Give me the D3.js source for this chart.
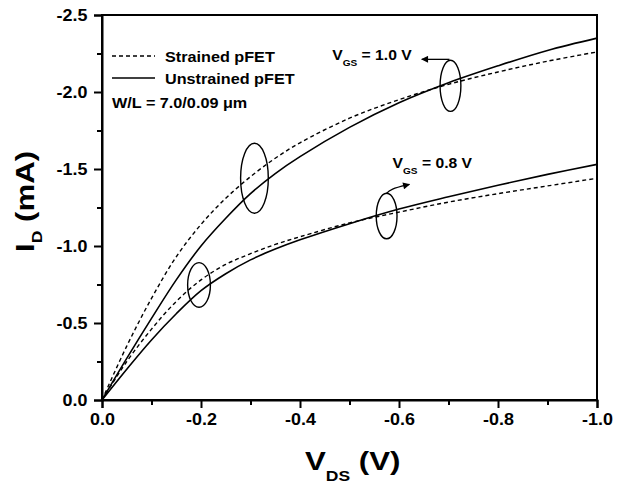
<!DOCTYPE html>
<html lang="en">
<head>
<meta charset="utf-8">
<title>pFET Id-Vds</title>
<script src="https://cdnjs.cloudflare.com/ajax/libs/d3/7.8.5/d3.min.js"></script>
<style>
  body { margin: 0; background: #fff; }
  svg { font-family: "Liberation Sans", Arial, sans-serif; font-weight: bold; }
</style>
</head>
<body>
<script>
// data (V and mA)
var vds = [0, -0.05, -0.1, -0.15, -0.2, -0.25, -0.3, -0.35, -0.4, -0.5, -0.6, -0.7, -0.8, -0.9, -1.0];
var strained10 = [0, -0.35, -0.66, -0.93, -1.14, -1.31, -1.45, -1.57, -1.67, -1.83, -1.95, -2.05, -2.13, -2.20, -2.26];
var unstrained10 = [0, -0.27, -0.53, -0.78, -1.00, -1.18, -1.34, -1.47, -1.58, -1.77, -1.93, -2.06, -2.17, -2.27, -2.35];
var strained08 = [0, -0.25, -0.46, -0.64, -0.78, -0.88, -0.95, -1.01, -1.06, -1.15, -1.22, -1.285, -1.34, -1.39, -1.44];
var unstrained08 = [0, -0.20, -0.39, -0.56, -0.71, -0.82, -0.91, -0.98, -1.04, -1.145, -1.24, -1.32, -1.395, -1.465, -1.53];
var xTicks = [0, -0.2, -0.4, -0.6, -0.8, -1.0];
var yTicks = [0, -0.5, -1.0, -1.5, -2.0, -2.5];

var W = 624, H = 483;
var margin = {top: 15, right: 27, bottom: 83, left: 102};

var x = d3.scaleLinear().domain([0, -1]).range([margin.left, W - margin.right]);
var y = d3.scaleLinear().domain([0, -2.5]).range([H - margin.bottom, margin.top]);

var svg = d3.select("body").append("svg")
    .attr("width", W)
    .attr("height", H);

// frame
svg.append("rect")
    .attr("x", x(0)).attr("y", y(-2.5))
    .attr("width", x(-1) - x(0)).attr("height", y(0) - y(-2.5))
    .attr("fill", "none").attr("stroke", "#000").attr("stroke-width", 2);

function fmt(d) { return d.toFixed(1); }

// minor ticks
svg.append("g")
    .attr("transform", "translate(0," + y(0) + ")")
    .call(d3.axisBottom(x).tickValues([-0.1, -0.3, -0.5, -0.7, -0.9]).tickSize(5).tickFormat(""))
    .call(function(g) { g.select(".domain").remove(); });
svg.append("g")
    .attr("transform", "translate(" + x(0) + ",0)")
    .call(d3.axisLeft(y).tickValues([-0.25, -0.75, -1.25, -1.75, -2.25]).tickSize(5).tickFormat(""))
    .call(function(g) { g.select(".domain").remove(); });

// major axes
var xAxis = svg.append("g")
    .attr("transform", "translate(0," + y(0) + ")")
    .call(d3.axisBottom(x).tickValues(xTicks).tickSize(8).tickPadding(6).tickFormat(fmt));
var yAxis = svg.append("g")
    .attr("transform", "translate(" + x(0) + ",0)")
    .call(d3.axisLeft(y).tickValues(yTicks).tickSize(8).tickPadding(5).tickFormat(fmt));

svg.selectAll(".domain").attr("stroke-width", 2);
svg.selectAll(".tick line").attr("stroke-width", 2);
svg.selectAll(".tick text")
    .attr("font-family", "Liberation Sans, Arial, sans-serif")
    .attr("font-weight", "bold")
    .attr("font-size", 16)
    .attr("fill", "#000");
xAxis.selectAll(".tick text").attr("transform", "scale(1.12,1)");
yAxis.selectAll(".tick text").attr("transform", "scale(1.12,1)");

// axis titles
var yt = svg.append("text")
    .attr("transform", "translate(34,252) rotate(-90) scale(1.25,1)")
    .attr("font-size", 25);
yt.append("tspan").text("I");
yt.append("tspan").attr("font-size", 14).attr("dy", 8).text("D");
yt.append("tspan").attr("dy", -8).text(" (mA)");

var xt = svg.append("text")
    .attr("transform", "translate(305,470) scale(1.25,1)")
    .attr("font-size", 25);
xt.append("tspan").text("V");
xt.append("tspan").attr("font-size", 14).attr("dy", 11).text("DS");
xt.append("tspan").attr("dy", -11).text(" (V)");

// curves
var line = d3.line()
    .x(function(d) { return x(d[0]); })
    .y(function(d) { return y(d[1]); })
    .curve(d3.curveCatmullRom.alpha(0.5));

var series = [
  {vals: strained10, dash: "4,3", w: 1.4},
  {vals: unstrained10, dash: null, w: 1.6},
  {vals: strained08, dash: "4,3", w: 1.4},
  {vals: unstrained08, dash: null, w: 1.6}
];
series.forEach(function(s) {
  svg.append("path")
      .datum(d3.zip(vds, s.vals))
      .attr("d", line)
      .attr("fill", "none")
      .attr("stroke", "#000")
      .attr("stroke-width", s.w)
      .attr("stroke-dasharray", s.dash);
});

// ellipse markers (data coords, radii in data units)
var ellipses = [
  {v: -0.308, i: -1.44, rv: 0.028, ri: 0.227},
  {v: -0.196, i: -0.747, rv: 0.023, ri: 0.145},
  {v: -0.704, i: -2.04, rv: 0.021, ri: 0.166},
  {v: -0.575, i: -1.195, rv: 0.021, ri: 0.148}
];
svg.selectAll(".ell").data(ellipses).enter().append("ellipse")
    .attr("cx", function(d) { return x(d.v); })
    .attr("cy", function(d) { return y(d.i); })
    .attr("rx", function(d) { return Math.abs(x(d.v + d.rv) - x(d.v)); })
    .attr("ry", function(d) { return Math.abs(y(d.i + d.ri) - y(d.i)); })
    .attr("fill", "none").attr("stroke", "#000").attr("stroke-width", 1.4);

// arrows
svg.append("defs").append("marker")
    .attr("id", "head")
    .attr("viewBox", "0 0 10 10")
    .attr("refX", 9).attr("refY", 5)
    .attr("markerWidth", 9).attr("markerHeight", 7)
    .attr("markerUnits", "userSpaceOnUse")
    .attr("orient", "auto")
  .append("path").attr("d", "M0,0L10,5L0,10Z").attr("fill", "#000");

var arrow10 = [[-0.702, -2.212], [-0.646, -2.212]];
var arrow08 = [[-0.574, -1.338], [-0.582, -1.37], [-0.621, -1.40]];
var aline = d3.line().x(function(d) { return x(d[0]); }).y(function(d) { return y(d[1]); }).curve(d3.curveBasis);
[arrow10, arrow08].forEach(function(a) {
  svg.append("path").attr("d", aline(a))
      .attr("fill", "none").attr("stroke", "#000").attr("stroke-width", 1.3)
      .attr("marker-end", "url(#head)");
});

// VGS labels
function vgsLabel(v, i, val) {
  var t = svg.append("text")
      .attr("transform", "translate(" + x(v) + "," + y(i) + ") scale(1.12,1)")
      .attr("font-size", 14);
  t.append("tspan").text("V");
  t.append("tspan").attr("font-size", 9).attr("dy", 6).text("GS");
  t.append("tspan").attr("dy", -6).text(" = " + val);
}
vgsLabel(-0.465, -2.21, "1.0 V");
vgsLabel(-0.587, -1.506, "0.8 V");

// legend
var legend = [
  {label: "Strained pFET", dash: "4,3", y: 56},
  {label: "Unstrained pFET", dash: null, y: 78}
];
legend.forEach(function(d) {
  svg.append("line")
      .attr("x1", 112).attr("x2", 155).attr("y1", d.y).attr("y2", d.y)
      .attr("stroke", "#000").attr("stroke-width", 1.4)
      .attr("stroke-dasharray", d.dash);
  svg.append("text")
      .attr("transform", "translate(165," + (d.y + 6) + ") scale(1.08,1)")
      .attr("font-size", 15)
      .text(d.label);
});
svg.append("text")
    .attr("transform", "translate(112,108) scale(1.08,1)")
    .attr("font-size", 15)
    .text("W/L = 7.0/0.09 \u03bcm");
</script>
</body>
</html>
